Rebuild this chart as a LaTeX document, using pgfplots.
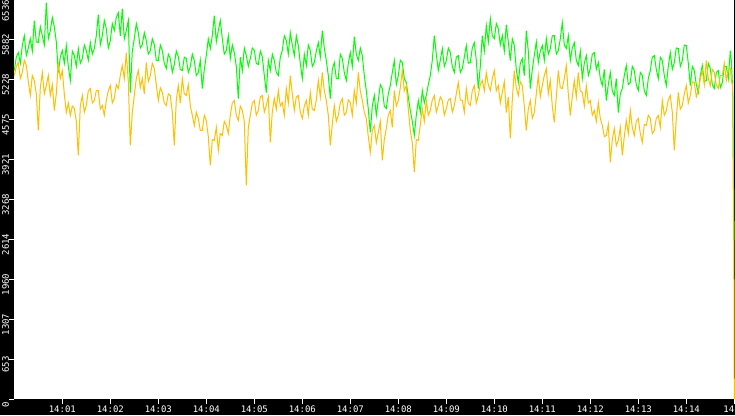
\documentclass[border=0pt]{standalone}
\usepackage{pgfplots}
\pgfplotsset{compat=1.18}
\usepackage{pgfplotstable}
\usepackage{fontspec}
\setmainfont{DejaVu Sans Mono}

\definecolor{lgreen}{HTML}{00FF00}
\definecolor{lorange}{HTML}{FFC000}

% t = seconds after 14:00, g = green series, o = orange series
\pgfplotstableread{
t g o
0 5381 5299
2.5 5600 5450
5 5675 5512
7.5 5500 5250
10 5790 5349
12.5 5950 5550
15 5626 5463
17.5 5750 5200
20 5904 4973
22.5 5700 5300
25 6198 5218
27.5 5850 5000
30 5839 4401
32.5 6100 5100
35 5953 5349
37.5 5800 5000
40 6492 5136
42.5 5900 5300
45 6035 4973
47.5 6250 5150
50 6100 4728
52.5 5850 5000
55 5349 5512
57.5 5600 5250
60 5708 5381
62.5 5500 5000
65 5790 4695
67.5 5450 4850
70 5218 4646
72.5 5700 4800
75 5626 4760
77.5 5450 4550
80 5741 3992
82.5 5500 4800
85 5577 4973
87.5 5800 4700
90 5708 4809
92.5 5550 5050
95 5839 5087
97.5 5650 4850
100 5741 4891
102.5 5950 5050
105 6296 5054
107.5 5800 4750
110 5953 4809
112.5 6200 4650
115 6067 4891
117.5 5750 5050
120 5871 5136
122.5 6150 4850
125 6035 4924
127.5 6250 5150
130 6329 5087
132.5 5950 5300
135 6394 5463
137.5 5900 5250
140 6035 5675
142.5 6200 5200
145 5022 4156
147.5 5700 4700
150 5904 4973
152.5 6150 5250
155 6002 5381
157.5 5750 5100
160 5806 5250
162.5 6000 5000
165 5871 5512
167.5 5650 5200
170 5708 5299
172.5 5900 5500
175 5806 5414
177.5 5550 5150
180 5545 4891
182.5 5800 5100
185 5708 5022
187.5 5500 4850
190 5414 4809
192.5 5650 5000
195 5577 4973
197.5 5350 4700
200 5479 4156
202.5 5700 4900
205 5610 5136
207.5 5400 4850
210 5381 5250
212.5 5600 5000
215 5577 4973
217.5 5350 5150
220 5447 4809
222.5 5650 4650
225 5545 4482
227.5 5300 4700
230 5349 4597
232.5 5550 4400
235 5087 4401
237.5 5400 4650
240 5626 4564
242.5 5900 4300
245 5741 3829
247.5 5950 4250
250 6280 4237
252.5 5850 4450
255 6035 4074
257.5 6200 4350
260 5904 4319
262.5 5650 4550
265 5708 4482
267.5 5950 4350
270 5577 4646
272.5 5800 4850
275 5675 4891
277.5 5450 4650
280 4924 4564
282.5 5600 4800
285 5381 4728
287.5 5750 4550
290 5626 3502
292.5 5450 4450
295 5577 4646
297.5 5750 4850
300 5708 4891
302.5 5500 4650
305 5479 4728
307.5 5700 4950
310 5610 4973
312.5 5300 4700
315 5022 4809
317.5 5550 4950
320 5381 4205
322.5 5650 4700
325 5545 4924
327.5 5350 4750
330 5299 5054
332.5 5600 4800
335 5708 4858
337.5 5950 4650
340 5871 5087
342.5 5650 4850
345 6002 5299
347.5 5800 5000
350 5626 4728
352.5 5950 4950
355 5790 4973
357.5 5500 4700
360 5250 4597
362.5 5650 4800
365 5463 4891
367.5 5800 4650
370 5708 5022
372.5 5450 4750
375 5512 4728
377.5 5700 4900
380 5839 5218
382.5 5600 4950
385 6035 5349
387.5 5750 5050
390 5545 4891
392.5 5300 4650
395 4924 4156
397.5 5400 4500
400 5512 4809
402.5 5250 4550
405 5250 4646
407.5 5650 4850
410 5577 4924
412.5 5350 4650
415 5218 4695
417.5 5500 4900
420 5675 4858
422.5 5450 4650
425 5937 5054
427.5 5650 4850
430 5545 5349
432.5 5750 5050
435 5626 4891
437.5 5300 4700
440 5054 4597
442.5 4750 4300
445 4368 4041
447.5 4800 4400
450 4973 4482
452.5 4650 4200
455 4891 4368
457.5 5150 4550
460 5087 3911
462.5 4800 4250
465 4760 4433
467.5 5000 4650
470 5136 4728
472.5 5350 4450
475 5545 5054
477.5 5150 4800
480 5299 4891
482.5 5550 5100
485 5512 5381
487.5 5250 5050
490 5185 5136
492.5 4950 4750
495 4728 4401
497.5 4550 4200
500 4319 3715
502.5 4650 4250
505 4891 4237
507.5 4700 4500
510 5054 4760
512.5 4850 4550
515 4973 4891
517.5 5150 4650
520 5299 4728
522.5 5550 4900
525 5953 4973
527.5 5650 4700
530 5381 4809
532.5 5550 4950
535 5741 4891
537.5 5450 4650
540 5545 4760
542.5 5750 4900
545 5675 4924
547.5 5450 4700
550 5349 4809
552.5 5600 5000
555 5626 5185
557.5 5350 4900
560 5414 4891
562.5 5600 4700
565 5790 5087
567.5 5500 4850
570 5512 4809
572.5 5750 5050
575 5839 5136
577.5 5550 4850
580 5087 4973
582.5 5450 5150
585 5953 5218
587.5 5700 5050
590 6116 5349
592.5 5850 5150
595 6231 5054
597.5 5950 5250
600 5904 5381
602.5 6150 5050
605 6067 5136
607.5 5800 4850
610 5953 5022
612.5 5700 5200
615 6133 4695
617.5 5850 4950
620 5545 4270
622.5 5900 4900
625 5790 5381
627.5 5400 5100
630 5185 4973
632.5 5500 5200
635 5577 5136
637.5 5300 4800
640 6035 4401
642.5 5700 4750
645 5087 4891
647.5 5400 4600
650 5626 4695
652.5 5850 5000
655 5512 5299
657.5 5700 4950
660 5790 5136
662.5 5550 5300
665 5904 5414
667.5 5650 5000
670 5741 5218
672.5 5950 4800
675 5953 4532
677.5 5650 4950
680 5708 5381
682.5 5900 5100
685 6165 5087
687.5 5800 5250
690 5741 5463
692.5 5950 5000
695 5545 4646
697.5 5750 4950
700 5839 5218
702.5 5550 4950
705 5463 5349
707.5 5700 5050
710 5250 5022
712.5 5500 4800
715 5626 5136
717.5 5300 4850
720 5414 4891
722.5 5650 4650
725 5675 4728
727.5 5400 4550
730 5512 4858
732.5 5250 4600
735 5136 4482
737.5 5400 4300
740 4891 4319
742.5 5150 4500
745 5349 3878
747.5 5050 4250
750 4973 4433
752.5 5250 4150
755 4695 4237
757.5 5000 4450
760 5087 3992
762.5 5300 4300
765 5463 4564
767.5 5150 4350
770 5185 4728
772.5 5450 4450
775 5381 4319
777.5 5150 4550
780 5054 4597
782.5 5350 4350
785 5299 4205
787.5 5050 4500
790 4973 4482
792.5 5250 4650
795 5381 4597
797.5 5600 4350
800 5626 4401
802.5 5400 4600
805 5250 4646
807.5 5600 4450
810 5545 4891
812.5 5300 4650
815 5136 4728
817.5 5450 4900
820 5675 4973
822.5 5400 4700
825 5512 4074
827.5 5750 4600
830 5741 5022
832.5 5450 4750
835 5545 4809
837.5 5800 5000
840 5790 5136
842.5 5500 4850
845 5136 4973
847.5 5450 5200
850 5381 5185
852.5 5150 4950
855 5022 5054
857.5 5300 5250
860 5463 5381
862.5 5200 5150
865 5218 5545
867.5 5500 5250
870 5414 5136
872.5 5150 5400
875 5087 5349
877.5 5350 5150
880 5381 5087
882.5 5100 5300
885 5185 5299
887.5 5450 5500
890 5447 5218
892.5 5250 5400
895 5708 5414
896.5 5500 5200
898 5054 5136
899.5 2603 2603
}\datatable

\begin{document}
\begin{tikzpicture}[x=1pt,y=1pt]
\fill[black] (0,0) rectangle (735,415);
\begin{axis}[
  at={(14.3pt,15.7pt)}, anchor=south west,
  scale only axis,
  width=720pt, height=399.3pt,
  xmin=0, xmax=900,
  ymin=0, ymax=6536,
  clip=false,
  axis background/.style={fill=white},
  axis line style={draw=none},
  tick align=outside,
  major tick length=5pt,
  tick style={white, line width=1pt},
  xtick={60,120,...,900},
  xticklabels={14:01,14:02,14:03,14:04,14:05,14:06,14:07,14:08,14:09,14:10,14:11,14:12,14:13,14:14,\makebox[0pt][r]{14}},
  ytick={0,653.6,1307.2,1960.8,2614.4,3268,3921.6,4575.2,5228.8,5882.4},
  yticklabels={0,653,1307,1960,2614,3268,3921,4575,5228,5882},
  extra y ticks={6536},
  extra y tick labels={6536},
  extra y tick style={yticklabel style={xshift=-6pt}},
  tick label style={text=white, font=\fontsize{9}{9}\selectfont},
  x tick label style={inner sep=1.5pt},
  y tick label style={yshift=-5pt, rotate=90, anchor=south, inner sep=0pt},
  xtick pos=bottom, ytick pos=left,
]
\addplot[lgreen, line width=1pt] table[x=t, y=g] {\datatable};
\addplot[lorange, line width=1pt] table[x=t, y=o] {\datatable} -- (axis cs:900,0);
\end{axis}
\pgfresetboundingbox
\path[use as bounding box] (0,0) rectangle (735,415);
\end{tikzpicture}
\end{document}
